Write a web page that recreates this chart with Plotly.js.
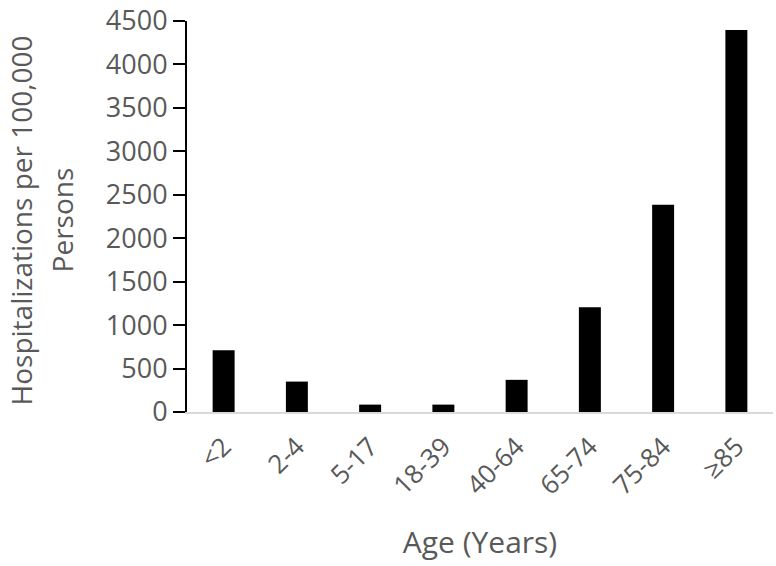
<!DOCTYPE html>
<html>
<head>
<meta charset="utf-8">
<script src="https://cdn.plot.ly/plotly-3.0.1.min.js"></script>
<style>html,body{margin:0;padding:0;background:#fff;}#chart{width:776px;height:566px;}</style>
</head>
<body>
<div id="chart"></div>
<script>
const ageGroups = ["<2", "2-4", "5-17", "18-39", "40-64", "65-74", "75-84", "≥85"];
const hospitalizations = [710, 350, 85, 85, 370, 1205, 2385, 4395];
const yTicks = [0, 500, 1000, 1500, 2000, 2500, 3000, 3500, 4000, 4500];
const yTitleLines = ["Hospitalizations per 100,000", "Persons"];

const font = "Open Sans, Liberation Sans, sans-serif";
const grey = "#595959";

Plotly.newPlot("chart", [{
  type: "bar",
  x: ageGroups,
  y: hospitalizations,
  marker: {color: "#000000", line: {color: "#000000", width: 0}},
  hoverinfo: "x+y"
}], {
  width: 776,
  height: 566,
  margin: {l: 187, r: 3, t: 21, b: 154},
  paper_bgcolor: "#ffffff",
  plot_bgcolor: "#ffffff",
  bargap: 0.70,
  showlegend: false,
  font: {family: font, color: grey, size: 28},
  xaxis: {
    type: "category",
    tickangle: -45,
    showline: true,
    linecolor: "#d9d9d9",
    linewidth: 2,
    ticks: "",
    ticklabelstandoff: 7,
    showgrid: false,
    zeroline: false,
    tickfont: {family: font, size: 26, color: grey},
    title: {text: "Age (Years)", font: {family: font, size: 30, color: grey}, standoff: 31},
    automargin: false
  },
  yaxis: {
    range: [0, 4500],
    tickvals: yTicks,
    showline: true,
    linecolor: "#000000",
    linewidth: 2,
    ticks: "outside",
    ticklen: 12,
    tickwidth: 2,
    tickcolor: "#000000",
    ticklabeloverflow: "allow",
    showgrid: false,
    zeroline: false,
    tickfont: {family: font, size: 27, color: grey},
    automargin: false
  },
  annotations: [
    {text: yTitleLines[0], textangle: -90, xref: "paper", yref: "paper", x: 0, y: 0.49,
     xanchor: "center", yanchor: "middle", xshift: -166, showarrow: false,
     font: {family: font, size: 28, color: grey}},
    {text: yTitleLines[1], textangle: -90, xref: "paper", yref: "paper", x: 0, y: 0.49,
     xanchor: "center", yanchor: "middle", xshift: -125, showarrow: false,
     font: {family: font, size: 28, color: grey}}
  ]
}, {displayModeBar: false, staticPlot: true});
</script>
</body>
</html>
